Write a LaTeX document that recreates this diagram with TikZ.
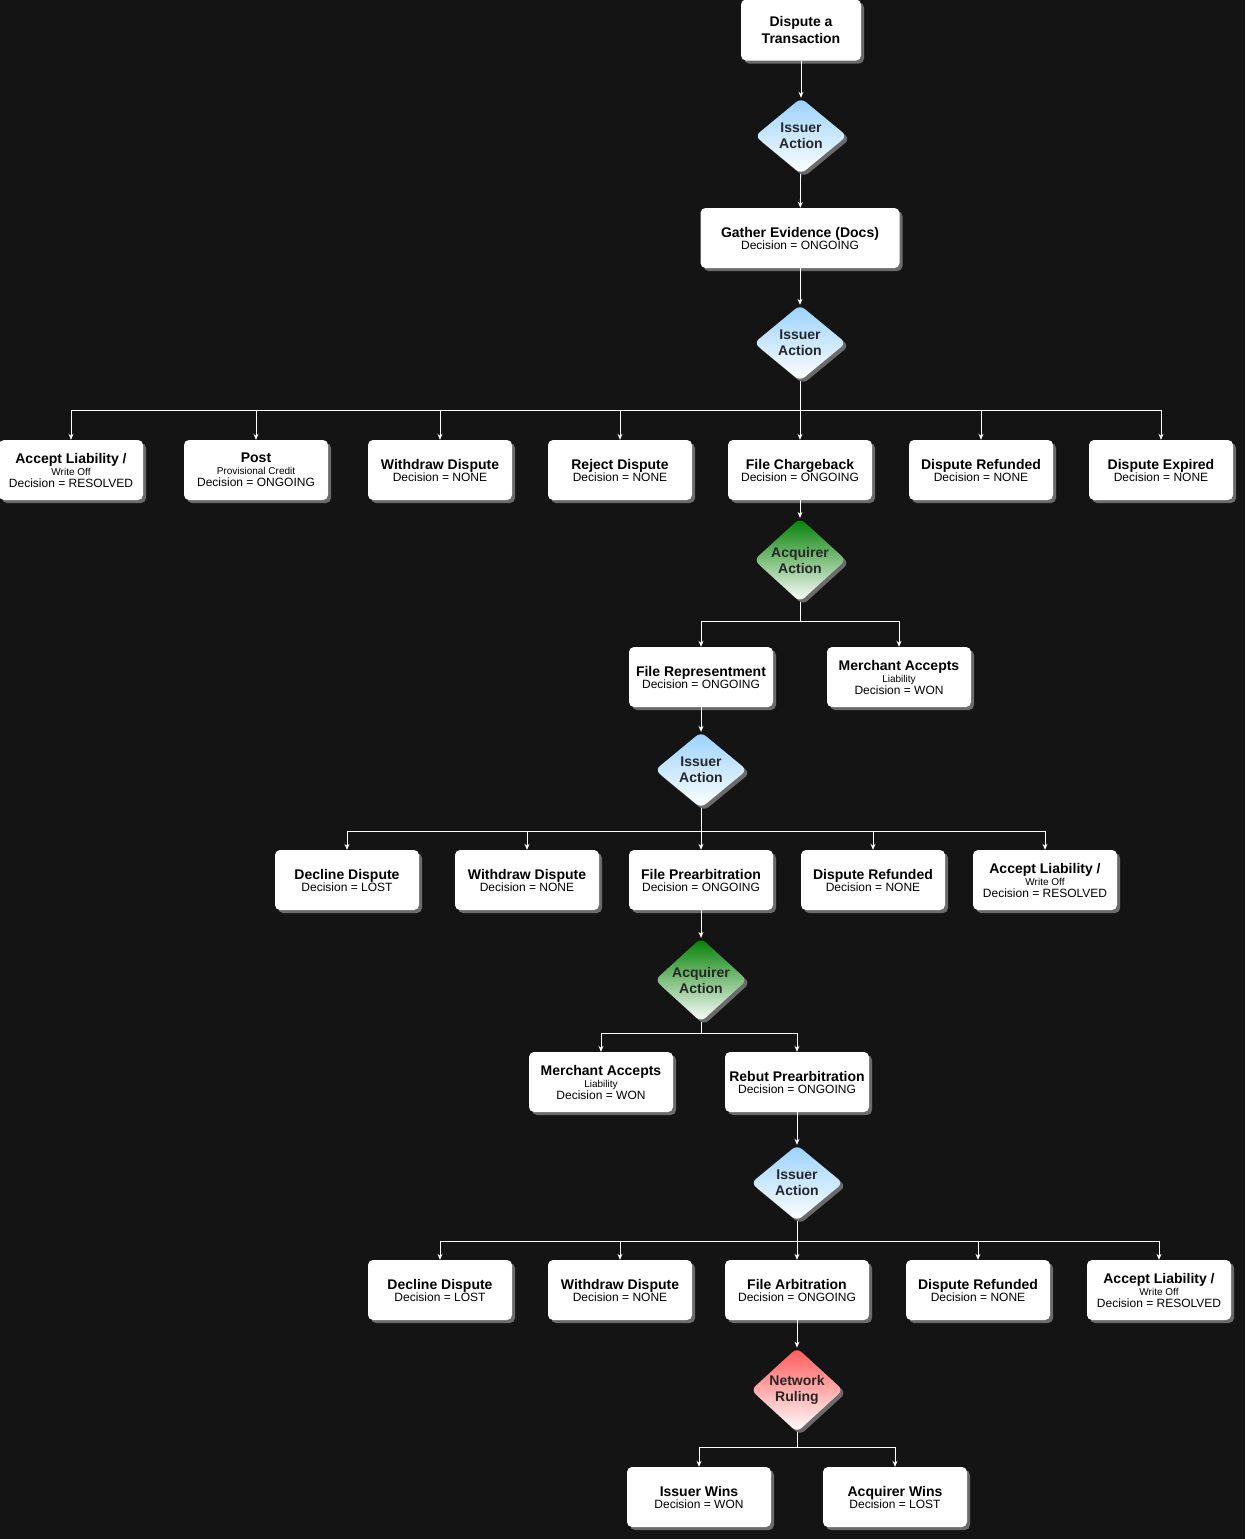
\documentclass[tikz,border=0pt]{standalone}
\usepackage{fontspec}
\setmainfont{Liberation Sans}
\usetikzlibrary{shapes.geometric,shadows,arrows.meta}
\begin{document}
\begin{tikzpicture}[x=1pt,y=-1pt,
 box/.style={fill=white, rounded corners=5pt, minimum height=60pt, minimum width=144pt, align=center, inner sep=2pt,
   drop shadow={fill=gray!70, opacity=0.6, shadow xshift=3pt, shadow yshift=-3pt}},
 dia/.style={diamond, rounded corners=6pt, minimum width=92pt, minimum height=76pt, inner sep=0pt, align=center,
   font=\fontsize{14}{16}\selectfont\bfseries, text=black!85,
   drop shadow={fill=gray!70, opacity=0.6, shadow xshift=3pt, shadow yshift=-3pt}},
 iss/.style={dia, top color=blue!45!cyan!40!white, bottom color=white},
 acq/.style={dia, top color=green!50!black, bottom color=white},
 net/.style={dia, top color=red!65, bottom color=white},
 ln/.style={draw=white, line width=0.8pt},
 arr/.style={ln, -{Stealth[length=6pt,width=5pt]}}]
\newcommand{\bt}[2]{\fontsize{14}{16}\selectfont\bfseries #1\\\fontsize{12}{14}\selectfont\mdseries #2}
\fill[black!92] (0,0) rectangle (1245,1539);
\useasboundingbox (0,0) rectangle (1245,1539);

\node[box, minimum width=120pt, minimum height=61pt, font=\fontsize{14}{17}\selectfont\bfseries] (start) at (801,30) {Dispute a\\Transaction};
\node[iss] (d1) at (801,136) {Issuer\\Action};
\node[box, minimum width=199pt] (gath) at (800,238) {\bt{Gather Evidence (Docs)}{Decision = ONGOING}};
\node[iss] (d2) at (800,343) {Issuer\\Action};
\draw[arr] (start) -- (d1);
\draw[arr] (d1) -- (gath);
\draw[arr] (gath) -- (d2);

\node[box] (r1a) at (71,470) {\bt{Accept Liability /\\Write Off}{Decision = RESOLVED}};
\node[box] (r1b) at (256,470) {\bt{Post\\Provisional Credit}{Decision = ONGOING}};
\node[box] (r1c) at (440,470) {\bt{Withdraw Dispute}{Decision = NONE}};
\node[box] (r1d) at (620,470) {\bt{Reject Dispute}{Decision = NONE}};
\node[box] (r1e) at (800,470) {\bt{File Chargeback}{Decision = ONGOING}};
\node[box] (r1f) at (981,470) {\bt{Dispute Refunded}{Decision = NONE}};
\node[box] (r1g) at (1161,470) {\bt{Dispute Expired}{Decision = NONE}};
\coordinate (b1) at (800,410);
\draw[ln] (d2.south) -- (b1);
\draw[ln] (b1 -| r1a) -- (b1 -| r1g);
\foreach \n in {r1a,r1b,r1c,r1d,r1e,r1f,r1g} \draw[arr] (b1 -| \n.north) -- (\n.north);

\node[acq] (a1) at (800,560) {Acquirer\\Action};
\draw[arr] (r1e) -- (a1);
\node[box] (r2a) at (701,677) {\bt{File Representment}{Decision = ONGOING}};
\node[box] (r2b) at (899,677) {\bt{Merchant Accepts\\Liability}{Decision = WON}};
\coordinate (b2) at (800,621);
\draw[ln] (a1.south) -- (b2);
\draw[ln] (b2 -| r2a) -- (b2 -| r2b);
\foreach \n in {r2a,r2b} \draw[arr] (b2 -| \n.north) -- (\n.north);

\node[iss] (d3) at (701,770) {Issuer\\Action};
\draw[arr] (r2a) -- (d3);
\node[box] (r3a) at (347,880) {\bt{Decline Dispute}{Decision = LOST}};
\node[box] (r3b) at (527,880) {\bt{Withdraw Dispute}{Decision = NONE}};
\node[box] (r3c) at (701,880) {\bt{File Prearbitration}{Decision = ONGOING}};
\node[box] (r3d) at (873,880) {\bt{Dispute Refunded}{Decision = NONE}};
\node[box] (r3e) at (1045,880) {\bt{Accept Liability /\\Write Off}{Decision = RESOLVED}};
\coordinate (b3) at (701,831);
\draw[ln] (d3.south) -- (b3);
\draw[ln] (b3 -| r3a) -- (b3 -| r3e);
\foreach \n in {r3a,r3b,r3c,r3d,r3e} \draw[arr] (b3 -| \n.north) -- (\n.north);

\node[acq] (a2) at (701,980) {Acquirer\\Action};
\draw[arr] (r3c) -- (a2);
\node[box] (r4a) at (601,1082) {\bt{Merchant Accepts\\Liability}{Decision = WON}};
\node[box] (r4b) at (797,1082) {\bt{Rebut Prearbitration}{Decision = ONGOING}};
\coordinate (b4) at (701,1033);
\draw[ln] (a2.south) -- (b4);
\draw[ln] (b4 -| r4a) -- (b4 -| r4b);
\foreach \n in {r4a,r4b} \draw[arr] (b4 -| \n.north) -- (\n.north);

\node[iss] (d4) at (797,1183) {Issuer\\Action};
\draw[arr] (r4b) -- (d4);
\node[box] (r5a) at (440,1290) {\bt{Decline Dispute}{Decision = LOST}};
\node[box] (r5b) at (620,1290) {\bt{Withdraw Dispute}{Decision = NONE}};
\node[box] (r5c) at (797,1290) {\bt{File Arbitration}{Decision = ONGOING}};
\node[box] (r5d) at (978,1290) {\bt{Dispute Refunded}{Decision = NONE}};
\node[box] (r5e) at (1159,1290) {\bt{Accept Liability /\\Write Off}{Decision = RESOLVED}};
\coordinate (b5) at (797,1241);
\draw[ln] (d4.south) -- (b5);
\draw[ln] (b5 -| r5a) -- (b5 -| r5e);
\foreach \n in {r5a,r5b,r5c,r5d,r5e} \draw[arr] (b5 -| \n.north) -- (\n.north);

\node[net] (n1) at (797,1390) {Network\\Ruling};
\draw[arr] (r5c) -- (n1);
\node[box] (r6a) at (699,1497) {\bt{Issuer Wins}{Decision = WON}};
\node[box] (r6b) at (895,1497) {\bt{Acquirer Wins}{Decision = LOST}};
\coordinate (b6) at (797,1447);
\draw[ln] (n1.south) -- (b6);
\draw[ln] (b6 -| r6a) -- (b6 -| r6b);
\foreach \n in {r6a,r6b} \draw[arr] (b6 -| \n.north) -- (\n.north);
\end{tikzpicture}
\end{document}
